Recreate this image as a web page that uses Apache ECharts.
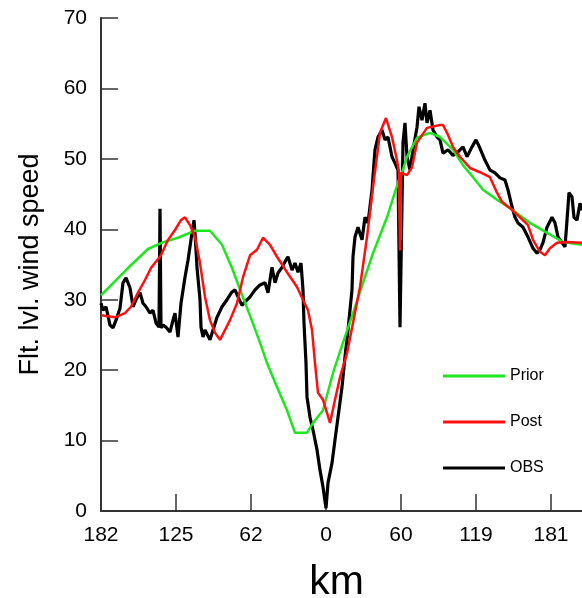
<!DOCTYPE html>
<html>
<head>
<meta charset="utf-8">
<script src="https://cdn.jsdelivr.net/npm/echarts@6/dist/echarts.min.js"></script>
<style>
  html, body { margin: 0; padding: 0; background: #fff; }
  #chart { width: 582px; height: 598px; }
</style>
</head>
<body>
<div id="chart"></div>
<script>
// Along-track sample position (0..481) and flight-level wind speed.
var xTickLabels = ['182', '125', '62', '0', '60', '119', '181'];

var priorX = [0, 27, 47, 61, 77, 94, 109, 121, 131, 141, 151, 159, 166, 176, 186, 194, 206, 212, 222, 232, 242, 252, 262, 272, 286, 298, 299, 299.5, 300, 306, 316, 329, 339, 352, 362, 372, 382, 396, 412, 429, 446, 462, 481];
var priorY = [30.6, 34.5, 37.2, 38.1, 38.8, 39.8, 39.8, 37.8, 34.5, 30.7, 27.0, 23.9, 21.0, 17.6, 14.3, 11.1, 11.1, 12.5, 14.3, 19.6, 23.9, 28.1, 32.4, 36.6, 41.7, 47.1, 47.3, 38.5, 47.6, 50.3, 53.0, 53.7, 53.1, 51.3, 49.1, 47.4, 45.6, 44.2, 42.7, 40.9, 39.5, 38.2, 37.8];

var postX = [0, 14, 24, 30, 37, 44, 50, 60, 67, 74, 80, 84, 89, 94, 99, 104, 109, 114, 119, 124, 129, 136, 142, 149, 156, 162, 169, 176, 186, 196, 202, 207, 211, 214, 217, 222, 229, 234, 239, 246, 252, 259, 266, 272, 279, 285, 291, 296, 298, 299, 300, 306, 311, 316, 326, 339, 342, 347, 352, 359, 369, 379, 389, 396, 401, 409, 419, 427, 432, 439, 444, 449, 456, 466, 481];
var postY = [27.8, 27.5, 28.1, 29.0, 31.0, 32.8, 34.5, 36.3, 38.5, 39.9, 41.3, 41.7, 40.6, 38.9, 35.2, 30.4, 27.1, 25.3, 24.3, 25.7, 27.1, 29.5, 33.2, 36.3, 37.1, 38.8, 37.8, 36.1, 33.9, 31.8, 30.0, 28.5, 25.7, 21.0, 16.8, 15.8, 12.5, 15.8, 19.0, 22.4, 26.7, 31.8, 38.9, 46.0, 53.7, 55.8, 53.1, 49.8, 48.1, 37.0, 48.0, 47.7, 48.8, 52.3, 54.4, 54.8, 54.8, 53.4, 51.7, 50.3, 48.7, 48.1, 47.4, 45.2, 43.9, 43.0, 41.7, 40.6, 38.5, 36.8, 36.3, 37.3, 38.1, 38.2, 38.1];

var obsX = [0, 2, 5, 9, 12, 15, 19, 22, 25, 29, 32, 35, 39, 42, 45, 49, 52, 55, 58, 59, 60, 62, 65, 69, 72, 74, 77, 80, 84, 87, 90, 93, 94, 96, 99, 100, 102, 104, 106, 109, 112, 116, 121, 126, 131, 134, 137, 141, 144, 149, 154, 159, 164, 167, 171, 174, 177, 181, 184, 187, 191, 194, 197, 200, 202, 203, 205, 206, 209, 212, 216, 219, 222, 225, 227, 231, 234, 237, 241, 244, 247, 251, 252, 254, 257, 261, 264, 267, 271, 274, 277, 281, 284, 287, 291, 294, 297, 299, 302, 304, 306, 309, 312, 316, 318, 321, 324, 326, 329, 332, 336, 339, 342, 347, 352, 357, 362, 366, 371, 375, 379, 384, 389, 394, 399, 404, 407, 411, 414, 417, 422, 427, 432, 436, 439, 442, 446, 451, 454, 457, 461, 464, 466, 468, 471, 473, 476, 479, 481];
var obsY = [29.5, 28.5, 29.0, 26.4, 26.0, 27.1, 28.8, 32.4, 33.1, 31.7, 29.0, 30.0, 31.0, 29.5, 29.0, 28.1, 28.5, 26.7, 26.1, 42.9, 26.0, 26.4, 26.1, 25.4, 27.1, 28.1, 24.7, 29.5, 33.2, 35.6, 38.5, 41.3, 39.5, 34.6, 30.0, 26.1, 24.7, 25.7, 25.7, 24.3, 25.7, 27.5, 29.0, 30.0, 31.1, 31.4, 30.4, 29.2, 29.7, 30.4, 31.4, 32.1, 32.4, 31.0, 34.6, 32.4, 33.8, 34.6, 35.4, 36.1, 34.2, 35.2, 33.9, 35.2, 31.4, 26.7, 21.0, 16.2, 13.3, 11.5, 8.7, 5.8, 3.4, 0.4, 4.0, 6.8, 10.1, 13.3, 17.6, 21.9, 25.7, 31.4, 36.1, 38.9, 40.3, 38.5, 41.7, 40.9, 45.6, 51.3, 53.1, 54.1, 52.7, 53.1, 50.3, 49.4, 48.4, 26.1, 52.3, 55.1, 50.3, 48.4, 51.3, 54.5, 57.4, 55.5, 57.9, 55.1, 56.9, 54.1, 53.1, 52.7, 50.8, 51.3, 50.5, 51.0, 51.7, 50.3, 51.7, 52.7, 51.5, 49.8, 48.4, 48.0, 47.3, 47.0, 45.6, 43.2, 41.7, 40.9, 40.3, 38.9, 37.3, 36.6, 37.1, 38.1, 40.3, 41.7, 40.9, 38.9, 38.1, 37.5, 41.3, 45.2, 44.6, 41.7, 41.3, 43.7, 42.7];

function pairs(xs, ys) {
  return xs.map(function (x, i) { return [x, ys[i]]; });
}

var FONT = '"Liberation Sans", Arial, sans-serif';
var GREEN = '#1ee61e';
var RED = '#ff1010';
var chart = echarts.init(document.getElementById('chart'), null, { renderer: 'canvas' });

chart.setOption({
  animation: false,
  backgroundColor: '#fff',
  grid: { left: 101, right: 0, top: 18, bottom: 87, containLabel: false, outerBoundsMode: 'none' },
  legend: {
    orient: 'vertical',
    left: 443,
    top: 367,
    padding: 0,
    itemWidth: 62,
    itemHeight: 3,
    itemGap: 28,
    icon: 'rect',
    textStyle: { fontFamily: FONT, fontSize: 16, color: '#000', lineHeight: 18 },
    data: ['Prior', 'Post', 'OBS']
  },
  xAxis: {
    type: 'value',
    min: 0,
    max: 481,
    interval: 75,
    name: 'km',
    nameLocation: 'middle',
    nameGap: 51,
    nameTextStyle: { fontFamily: FONT, fontSize: 41, color: '#000', padding: [0, 10, 0, 0] },
    axisLine: { show: true, lineStyle: { color: '#333', width: 2 } },
    axisTick: { show: true, inside: true, length: 17, lineStyle: { color: '#333', width: 1.5 } },
    axisLabel: {
      fontFamily: FONT, fontSize: 21, color: '#000', margin: 14,
      showMaxLabel: false,
      formatter: function (v) { return xTickLabels[Math.round(v / 75)] || ''; }
    },
    splitLine: { show: false }
  },
  yAxis: {
    type: 'value',
    min: 0,
    max: 70,
    interval: 10,
    name: 'Flt. lvl. wind speed',
    nameLocation: 'middle',
    nameGap: 57,
    nameTextStyle: { fontFamily: FONT, fontSize: 27, color: '#000' },
    axisLine: { show: true, lineStyle: { color: '#333', width: 2 } },
    axisTick: { show: true, inside: true, length: 17, lineStyle: { color: '#333', width: 1.5 } },
    axisLabel: { fontFamily: FONT, fontSize: 21, color: '#000', margin: 14 },
    splitLine: { show: false }
  },
  series: [
    {
      name: 'Prior', type: 'line', showSymbol: false, symbol: 'none',
      data: pairs(priorX, priorY),
      lineStyle: { color: GREEN, width: 2.5 },
      itemStyle: { color: GREEN },
      z: 2
    },
    {
      name: 'Post', type: 'line', showSymbol: false, symbol: 'none',
      data: pairs(postX, postY),
      lineStyle: { color: RED, width: 2.5 },
      itemStyle: { color: RED },
      z: 3
    },
    {
      name: 'OBS', type: 'line', showSymbol: false, symbol: 'none',
      data: pairs(obsX, obsY),
      lineStyle: { color: '#000', width: 3.2 },
      itemStyle: { color: '#000' },
      z: 1
    }
  ]
});
</script>
</body>
</html>
